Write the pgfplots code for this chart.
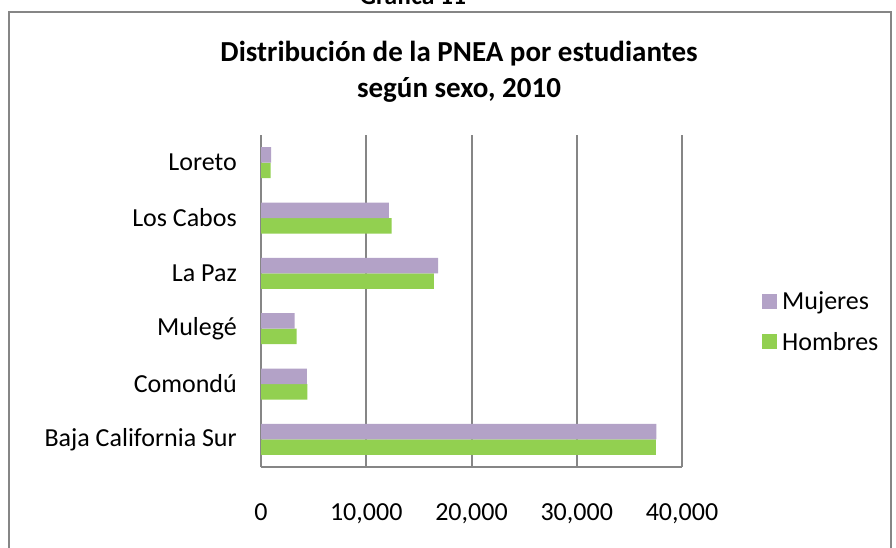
\documentclass[border=0pt]{standalone}
\usepackage{pgfplots}
\pgfplotsset{compat=1.18}
\usepackage{fontspec}
\setmainfont{Carlito}
\definecolor{muj}{HTML}{B3A2C7}
\definecolor{hom}{HTML}{92D050}
\definecolor{gridc}{HTML}{868686}
\begin{document}
\begin{tikzpicture}[x=1pt,y=1pt]
\useasboundingbox (0pt,0pt) rectangle (896pt,-548pt);
\draw[gridc, line width=1.8pt] (9pt,-600pt) -- (9pt,-12pt) -- (891pt,-12pt) -- (891pt,-600pt);
\node[anchor=base, font=\fontsize{25.5}{30}\selectfont\bfseries] at (413pt,-5pt) {Gráfica 11};
\node[anchor=base, font=\fontsize{29}{34}\selectfont\bfseries] at (459pt,-62pt) {Distribución de la PNEA por estudiantes};
\node[anchor=base, font=\fontsize{29}{34}\selectfont\bfseries] at (459pt,-98pt) {según sexo, 2010};
\begin{axis}[
  at={(261pt,-467pt)}, anchor=south west,
  width=421pt, height=332pt, scale only axis,
  xbar, bar width=15.5pt,
  xmin=0, xmax=40000, ymin=-0.5, ymax=5.5,
  xtick={0,10000,20000,30000,40000},
  ytick={0,1,2,3,4,5},
  yticklabels={Baja California Sur, Comondú, Mulegé, La Paz, Los Cabos, Loreto},
  scaled x ticks=false,
  /pgf/number format/.cd, 1000 sep={,}, assume math mode=true, /pgfplots/.cd,
  major tick length=0pt,
  xmajorgrids,
  grid style={gridc, line width=2pt},
  axis x line*=bottom, axis y line*=left,
  axis line style={gridc, line width=2pt, -},
  xticklabel style={font=\fontsize{26}{30}\selectfont, anchor=base, yshift=-53pt},
  yticklabel style={font=\fontsize{26}{30}\selectfont, anchor=east, inner sep=0pt, xshift=-24pt},
  reverse legend,
  legend style={at={(1.19,0.535)}, anchor=north west, draw=none, fill=none,
    font=\fontsize{26}{30}\selectfont, row sep=17pt, inner sep=0pt,
    nodes={inner xsep=5pt}},
  legend cell align=left,
  legend image code/.code={\fill[#1] (0pt,-7.5pt) rectangle (15pt,7.5pt);},
]
\addplot[fill=hom, draw=none, bar shift=-7.75pt] coordinates {
 (37510,0) (4400,1) (3390,2) (16430,3) (12410,4) (920,5)};
\addlegendentry{Hombres}
\addplot[fill=muj, draw=none, bar shift=7.75pt] coordinates {
 (37570,0) (4370,1) (3200,2) (16840,3) (12150,4) (950,5)};
\addlegendentry{Mujeres}
\end{axis}
\end{tikzpicture}
\end{document}
